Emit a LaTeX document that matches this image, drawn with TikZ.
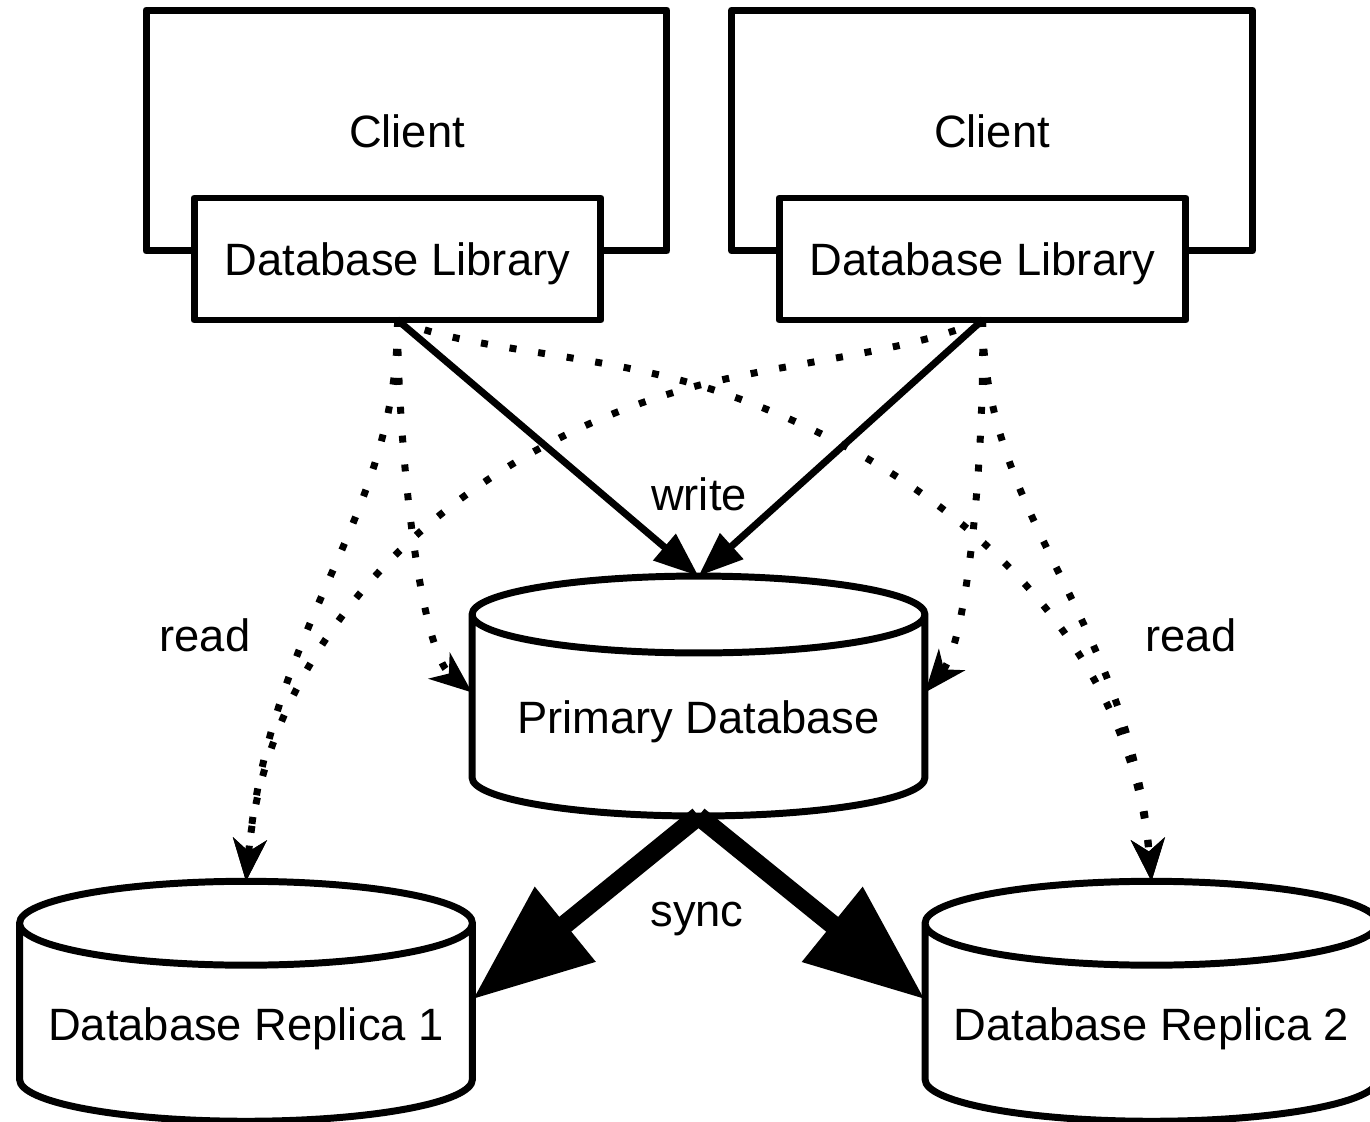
\documentclass[tikz,border=0pt]{standalone}
\usepackage{fontspec}
\setmainfont{Liberation Sans}
\usepackage{tikz}
\usetikzlibrary{arrows.meta, shapes.geometric}

\tikzset{
    box/.style = {draw, line width=3.97pt, fill=white, outer sep=0pt, inner sep=0pt, line join=round},
    client/.style = {box, minimum width=10.42cm, minimum height=4.82cm},
    library/.style = {box, text depth=0pt, minimum width=8.14cm, minimum height=2.44cm},
    database/.style = {draw, line width=3.97pt, fill=white, cylinder, shape border rotate=90, shape aspect=0.212, text depth=0pt, outer sep=0pt, inner sep=0pt, minimum width=9.06cm, minimum height=4.8cm},
    writeline/.style = {line width=3.97pt, -{Triangle[length=25.5pt, width=19pt]}},
    readline/.style = {line width=3.97pt, dash pattern=on 3.97pt off 12.5pt, -{Stealth[length=24pt, width=19pt, inset=7pt]}},
    syncline/.style = {line width=10.8pt, -{Triangle[length=68pt, width=52pt]}},
}

\begin{document}
\begin{tikzpicture}[x=0.02cm, y=-0.02cm, font=\fontsize{25.8}{30}\selectfont]
    \clip (0, 0) rectangle (1370, 1122);

    % clients with their libraries
    \node[client] (client1) at (406.5, 130.5) {};
    \node[client] (client2) at (992, 130.5) {};
    \node at (407, 131) (clienttext1) {Client};
    \node at (992, 131) (clienttext2) {Client};
    \node[library] (library1) at (397.5, 259) {Database Library};
    \node[library] (library2) at (982.5, 259) {Database Library};

    % databases
    \node[database] (primary) at (698.5, 717) {Primary Database};
    \node[database] (replica1) at (246, 1024) {Database Replica 1};
    \node[database] (replica2) at (1151.5, 1024) {Database Replica 2};

    % reads
    \draw[readline] (library1.south) .. controls (398, 520) and (270, 620) .. (replica1.north);
    \draw[readline] (library1.south) .. controls (398, 450) and (420, 650) .. ([yshift=0.49cm]primary.west);
    \draw[readline] (library1.south) .. controls (470, 352) and (600, 352) .. (720, 392) .. controls (950, 470) and (1130, 640) .. (replica2.north);
    \draw[readline] (library2.south) .. controls (910, 352) and (800, 360) .. (700, 385) .. controls (470, 445) and (270, 620) .. (replica1.north);
    \draw[readline] (library2.south) .. controls (985, 450) and (968, 640) .. ([yshift=0.49cm]primary.east);
    \draw[readline] (library2.south) .. controls (985, 520) and (1130, 620) .. (replica2.north);

    % writes
    \draw[writeline] (library1.south) -- (primary.north);
    \draw[writeline] (library2.south) -- (primary.north);

    % sync
    \draw[syncline] (primary.south) -- ([yshift=0.49cm]replica1.east);
    \draw[syncline] (primary.south) -- ([yshift=0.49cm]replica2.west);

    \node at (699, 494) (writetext) {write};
    \node at (205, 635) (readtext1) {read};
    \node at (1191, 635) (readtext2) {read};
    \node at (697, 919) (synctext) {sync};
\end{tikzpicture}
\end{document}
